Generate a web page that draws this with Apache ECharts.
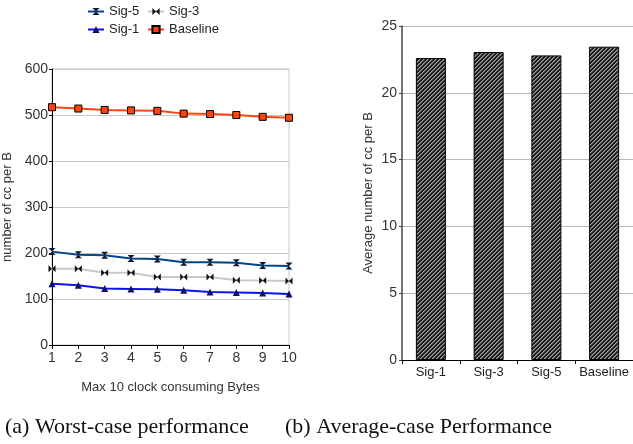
<!DOCTYPE html>
<html>
<head>
<meta charset="utf-8">
<script src="https://cdn.jsdelivr.net/npm/echarts@6/dist/echarts.min.js"></script>
<style>
  html, body { margin: 0; padding: 0; background: #fff; }
  #main { width: 633px; height: 444px; }
</style>
</head>
<body>
<div id="main"></div>
<script>
// worst-case panel (a)
const bytes = ['1', '2', '3', '4', '5', '6', '7', '8', '9', '10']
const sig5 = [203, 196, 195, 188, 187, 180, 180, 179, 173, 172]
const sig3 = [166, 166, 157, 157, 148, 148, 148, 141, 140, 139]
const sig1 = [133, 130, 123, 122, 121, 119, 115, 114, 113, 111]
const baseline = [517, 514, 511, 510, 509, 503, 502, 500, 496, 494]

// average-case panel (b)
const schemes = ['Sig-1', 'Sig-3', 'Sig-5', 'Baseline']
const avgCC = [22.6, 23.05, 22.8, 23.45]

const captions = ['(a) Worst-case performance', '(b) Average-case Performance']

const sans = 'Liberation Sans'

// diagonal hatch for the bars
function hatch() {
  const c = document.createElement('canvas')
  c.width = 4
  c.height = 4
  const ctx = c.getContext('2d')
  for (let x = 0; x < 4; x++) {
    for (let y = 0; y < 4; y++) {
      const k = (x + y) % 4
      if (k < 2) ctx.fillStyle = '#1a1a1a'
      else ctx.fillStyle = k === 2 ? '#a8a8a8' : '#5a5a5a'
      ctx.fillRect(x, y, 1, 1)
    }
  }
  return c
}

const hourglass = 'path://M0,0L10,0L0,10L10,10Z'
const bowtie = 'path://M0,0L10,10L10,0L0,10Z'

function lineSeries(name, data, color, symbol, size, fill, border) {
  return {
    name: name,
    type: 'line',
    xAxisIndex: 0,
    yAxisIndex: 0,
    data: data,
    symbol: symbol,
    symbolSize: size,
    showAllSymbol: true,
    lineStyle: { color: color, width: 2 },
    itemStyle: { color: fill, borderColor: border || fill, borderWidth: border ? 1 : 0 },
    emphasis: { disabled: true },
    animation: false
  }
}

function legendAt(name, left, top) {
  return {
    data: [name],
    left: left,
    top: top,
    itemWidth: 16,
    itemHeight: 9,
    itemGap: 4,
    textStyle: { fontFamily: sans, fontSize: 13, color: '#222' }
  }
}

const chart = echarts.init(document.getElementById('main'))

const option = {
  backgroundColor: '#fff',
  animation: false,
  legend: [
    legendAt('Sig-5', 82, 0),
    legendAt('Sig-3', 142, 0),
    legendAt('Sig-1', 82, 18),
    legendAt('Baseline', 142, 18)
  ],
  grid: [
    { left: 52, right: 344, top: 69, bottom: 99, show: true, borderColor: '#c8c8c8', borderWidth: 1 },
    { left: 402, right: -5, top: 26, bottom: 84 }
  ],
  xAxis: [
    {
      gridIndex: 0,
      type: 'category',
      data: bytes,
      boundaryGap: false,
      name: 'Max 10 clock consuming Bytes',
      nameLocation: 'middle',
      nameGap: 36,
      nameTextStyle: { fontFamily: sans, fontSize: 13, color: '#333' },
      axisLine: { lineStyle: { color: '#000', width: 1 } },
      axisTick: { show: true, length: 4, lineStyle: { color: '#000' } },
      axisLabel: { fontFamily: sans, fontSize: 14, color: '#333', margin: 6 },
      splitLine: { show: false }
    },
    {
      gridIndex: 1,
      type: 'category',
      data: schemes,
      axisLine: { lineStyle: { color: '#000', width: 1 } },
      axisTick: { show: true, length: 4, lineStyle: { color: '#000' } },
      axisLabel: { interval: 0, fontFamily: sans, fontSize: 13, color: '#222', margin: 6 },
      splitLine: { show: false }
    }
  ],
  yAxis: [
    {
      gridIndex: 0,
      type: 'value',
      min: 0,
      max: 600,
      interval: 100,
      name: 'number of cc per B',
      nameLocation: 'middle',
      nameGap: 38,
      nameTextStyle: { fontFamily: sans, fontSize: 13, color: '#333' },
      axisLine: { show: true, lineStyle: { color: '#000', width: 1 } },
      axisTick: { show: true, length: 3, lineStyle: { color: '#000' } },
      axisLabel: { fontFamily: sans, fontSize: 14, color: '#333', margin: 4 },
      splitLine: { lineStyle: { color: '#c8c8c8', width: 1 } }
    },
    {
      gridIndex: 1,
      type: 'value',
      min: 0,
      max: 25,
      interval: 5,
      name: 'Average number of cc per B',
      nameLocation: 'middle',
      nameGap: 27,
      nameTextStyle: { fontFamily: sans, fontSize: 13, color: '#333' },
      axisLine: { show: true, lineStyle: { color: '#444', width: 1.5 } },
      axisTick: { show: true, length: 3, lineStyle: { color: '#444' } },
      axisLabel: { fontFamily: sans, fontSize: 14, color: '#333', margin: 5 },
      splitLine: { lineStyle: { color: '#b8b8b8', width: 1 } }
    }
  ],
  series: [
    lineSeries('Sig-5', sig5, '#004586', hourglass, 7, '#0a1a30'),
    lineSeries('Sig-3', sig3, '#c8c8c8', bowtie, 7, '#111'),
    lineSeries('Sig-1', sig1, '#0a14f0', 'triangle', 7, '#101060'),
    lineSeries('Baseline', baseline, '#ff420e', 'rect', 7, '#ff420e', '#000'),
    {
      type: 'bar',
      xAxisIndex: 1,
      yAxisIndex: 1,
      data: avgCC,
      barWidth: 30,
      itemStyle: {
        color: { image: hatch(), repeat: 'repeat' },
        borderColor: '#000',
        borderWidth: 1
      },
      emphasis: { disabled: true }
    }
  ],
  graphic: [
    {
      type: 'text',
      left: 5,
      top: 416,
      style: { text: captions[0], font: '22px "Liberation Serif"', fill: '#111' }
    },
    {
      type: 'text',
      left: 285,
      top: 416,
      style: { text: captions[1], font: '22px "Liberation Serif"', fill: '#111' }
    }
  ]
}

chart.setOption(option)
</script>
</body>
</html>
